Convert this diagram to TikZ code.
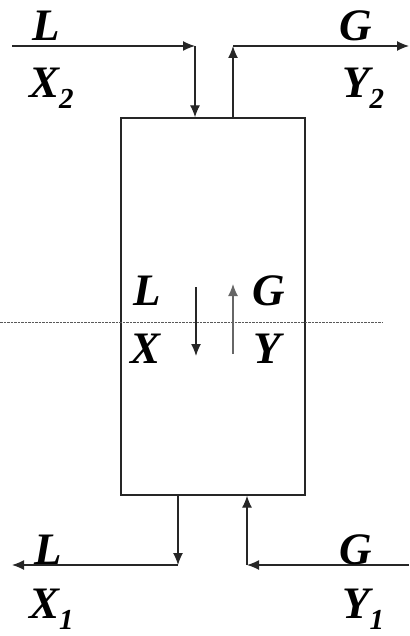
\documentclass[tikz,border=0pt]{standalone}
\usepackage{fontspec}
\setmainfont{Liberation Serif}
\usetikzlibrary{arrows.meta}
\newcommand{\lowsub}[1]{\raisebox{-11pt}{\fontsize{29}{29}\selectfont #1}}
\begin{document}
\begin{tikzpicture}[x=1pt,y=-1pt,
  lbl/.style={anchor=base west, inner sep=0pt, font=\fontsize{45}{45}\selectfont\bfseries\itshape},
  flow/.style={line width=1.3pt, draw=black!85, -{Latex[length=12pt,width=10pt]}},
  flowlight/.style={flow, draw=black!60, -{Latex[length=12pt,width=10pt]}},
  cut/.style={line width=1pt, draw=black!65, dash pattern=on 2.5pt off 1pt}]
\useasboundingbox (0,0) rectangle (409,636);
% column
\node[draw=black!85, line width=1.3pt, minimum width=184pt, minimum height=377pt, inner sep=0pt] (col) at (213,306.5) {};
% coordinates
\coordinate (tl0) at (12,46);
\coordinate (tl1) at (195,46);
\coordinate (tg1) at (233,46);
\coordinate (tg2) at (409,46);
\coordinate (bl1) at (178,565);
\coordinate (bl0) at (12,565);
\coordinate (bg0) at (409,565);
\coordinate (bg1) at (247,565);
\coordinate (ma0) at (196,287);
\coordinate (ma1) at (196,356);
\coordinate (mg0) at (233,354);
\coordinate (mg1) at (233,284);
\coordinate (d0) at (0,322);
\coordinate (d1) at (382,322);
% dotted section line
\draw[cut] (d0) -- (d1);
% top streams
\draw[flow] (tl0) -- (tl1);
\draw[flow] (tl1) -- (tl1 |- col.north);
\draw[flow] (tg1 |- col.north) -- (tg1);
\draw[flow] (tg1) -- (tg2);
% bottom streams
\draw[flow] (col.south -| bl1) -- (bl1);
\draw[flow] (bl1) -- (bl0);
\draw[flow] (bg0) -- (bg1);
\draw[flow] (bg1) -- (bg1 |- col.south);
% inner arrows
\draw[flow] (ma0) -- (ma1);
\draw[flowlight] (mg0) -- (mg1);
% labels
\node[lbl] (Ltop) at (32,41) {L};
\node[lbl] (Gtop) at (339,41) {G};
\node[lbl] (X2) at (29,98) {X\lowsub{2}};
\node[lbl] (Y2) at (342,98) {Y\lowsub{2}};
\node[lbl] (Lmid) at (133,305) {L};
\node[lbl] (Gmid) at (252,305) {G};
\node[lbl] (Xmid) at (130,363) {X};
\node[lbl] (Ymid) at (253,363) {Y};
\node[lbl] (Lbot) at (34,564) {L};
\node[lbl] (Gbot) at (339,564) {G};
\node[lbl] (X1) at (29,618) {X\lowsub{1}};
\node[lbl] (Y1) at (342,618) {Y\lowsub{1}};
\end{tikzpicture}
\end{document}
